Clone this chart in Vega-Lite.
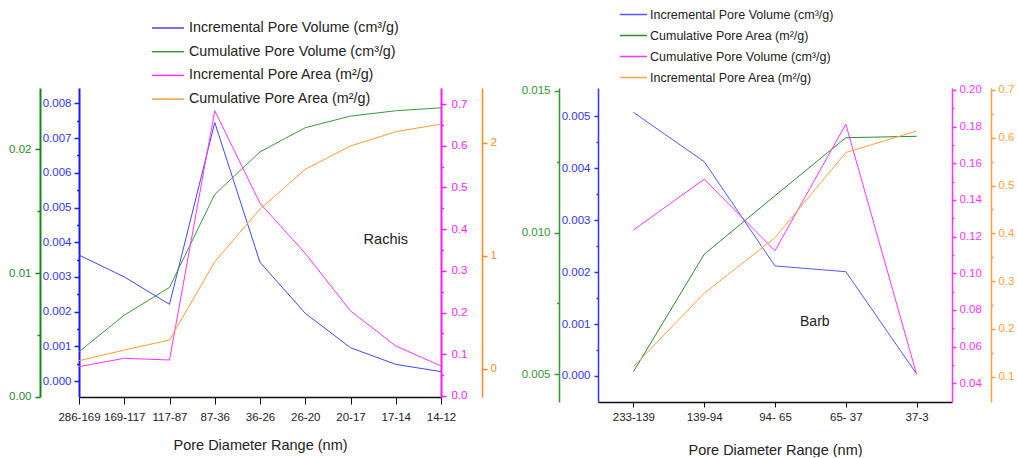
{
  "$schema": "https://vega.github.io/schema/vega-lite/v6.json",
  "background": "white",
  "padding": {"left": 8, "top": 7, "right": 0, "bottom": 0},
  "spacing": 157,
  "bounds": "flush",
  "config": {
    "font": "Liberation Sans",
    "view": {"stroke": null},
    "axis": {"labelFont": "Liberation Sans", "titleFont": "Liberation Sans", "grid": false, "labelFontSize": 11.5, "titleFontWeight": "normal", "labelOverlap": false, "labelFlush": false, "labelBound": false},
    "legend": {"labelFont": "Liberation Sans", "padding": 0}
  },
  "datasets": {
    "rachis": [
      {"range": "286-169", "ipv": 0.00363, "cpv": 0.00364, "ipa": 0.0703, "cpa": 0.071},
      {"range": "169-117", "ipv": 0.0030, "cpv": 0.0066, "ipa": 0.0904, "cpa": 0.165},
      {"range": "117-87", "ipv": 0.00221, "cpv": 0.00884, "ipa": 0.0863, "cpa": 0.254},
      {"range": "87-36", "ipv": 0.00745, "cpv": 0.01636, "ipa": 0.684, "cpa": 0.947},
      {"range": "36-26", "ipv": 0.00342, "cpv": 0.0198, "ipa": 0.462, "cpa": 1.413},
      {"range": "26-20", "ipv": 0.00195, "cpv": 0.02175, "ipa": 0.342, "cpa": 1.765},
      {"range": "20-17", "ipv": 0.00096, "cpv": 0.02269, "ipa": 0.204, "cpa": 1.971},
      {"range": "17-14", "ipv": 0.00048, "cpv": 0.02312, "ipa": 0.120, "cpa": 2.097},
      {"range": "14-12", "ipv": 0.00027, "cpv": 0.02336, "ipa": 0.072, "cpa": 2.165}
    ],
    "barb": [
      {"range": "233-139", "ipv": 0.00508, "cpa": 0.00508, "cpv": 0.1236, "ipa": 0.121},
      {"range": "139-94", "ipv": 0.00413, "cpa": 0.00923, "cpv": 0.1513, "ipa": 0.2745},
      {"range": "94- 65", "ipv": 0.00212, "cpa": 0.0113, "cpv": 0.1123, "ipa": 0.391},
      {"range": "65- 37", "ipv": 0.00201, "cpa": 0.01335, "cpv": 0.1813, "ipa": 0.569},
      {"range": "37-3", "ipv": 0.00004, "cpa": 0.0134, "cpv": 0.0449, "ipa": 0.614}
    ]
  },
  "resolve": {"scale": {"color": "independent"}, "legend": {"color": "independent"}},
  "hconcat": [
    {
      "width": 362,
      "height": 309,
      "data": {"name": "rachis"},
      "encoding": {
        "x": {
          "field": "range", "type": "ordinal",
          "scale": {"type": "point", "padding": 0, "domain": ["286-169", "169-117", "117-87", "87-36", "36-26", "26-20", "20-17", "17-14", "14-12"]},
          "axis": {"title": "Pore Diameter Range (nm)", "labelAngle": 0, "domainColor": "#111", "domainWidth": 1.5, "tickColor": "#111", "tickSize": 7, "tickWidth": 1, "labelPadding": 7, "labelFontSize": 11.5, "labelColor": "#222", "titleFontSize": 14.5, "titleColor": "#222", "titlePadding": 16}
        }
      },
      "layer": [
        {
          "mark": {"type": "line", "strokeWidth": 1},
          "encoding": {
            "y": {"field": "ipv", "type": "quantitative", "scale": {"domain": [-0.000461, 0.008444], "zero": false, "nice": false},
              "axis": {"orient": "left", "offset": 0, "title": null, "values": [0,0.0005,0.001,0.0015,0.002,0.0025,0.003,0.0035,0.004,0.0045,0.005,0.0055,0.006,0.0065,0.007,0.0075,0.008], "format": ".3f",
                "labelExpr": "abs(datum.value*1000 - round(datum.value*1000)) < 0.01 ? datum.label : ''",
                "tickSize": {"condition": {"test": "abs(datum.value*1000 - round(datum.value*1000)) < 0.01", "value": 5}, "value": 2.5},
                "domainColor": "#1a1aff", "domainWidth": 2, "tickColor": "#1a1aff", "tickWidth": 1.5, "labelColor": "#3333ff", "labelPadding": 3}},
            "color": {"datum": "Incremental Pore Volume (cm³/g)", "type": "nominal",
              "scale": {"domain": ["Incremental Pore Volume (cm³/g)", "Cumulative Pore Volume (cm³/g)", "Incremental Pore Area (m²/g)", "Cumulative Pore Area (m²/g)"], "range": ["#4444ff", "#3a9a3a", "#ff33ff", "#ff9933"]},
              "legend": {"orient": "none", "legendX": 80, "legendY": -69, "title": null, "symbolType": "M-2,0H2", "symbolSize": 256, "symbolStrokeWidth": 1.5, "labelFontSize": 14.3, "labelColor": "#222", "rowPadding": 6.7, "labelOffset": 12, "labelLimit": 400}}
          }
        },
        {
          "mark": {"type": "line", "strokeWidth": 1},
          "encoding": {
            "y": {"field": "cpv", "type": "quantitative", "scale": {"domain": [-0.00002, 0.02496], "zero": false, "nice": false},
              "axis": {"orient": "left", "offset": 39, "title": null, "values": [0, 0.005, 0.01, 0.015, 0.02], "format": ".2f",
                "labelExpr": "abs(datum.value*100 - round(datum.value*100)) < 0.01 ? datum.label : ''",
                "tickSize": {"condition": {"test": "abs(datum.value*100 - round(datum.value*100)) < 0.01", "value": 5}, "value": 3},
                "domainColor": "#138a13", "domainWidth": 2, "tickColor": "#138a13", "tickWidth": 1.5, "labelColor": "#2a8a2a", "labelPadding": 4}},
            "color": {"datum": "Cumulative Pore Volume (cm³/g)", "type": "nominal"}
          }
        },
        {
          "mark": {"type": "line", "strokeWidth": 1},
          "encoding": {
            "y": {"field": "ipa", "type": "quantitative", "scale": {"domain": [-0.0024, 0.7384], "zero": false, "nice": false},
              "axis": {"orient": "right", "offset": 0, "title": null, "values": [0,0.05,0.1,0.15,0.2,0.25,0.3,0.35,0.4,0.45,0.5,0.55,0.6,0.65,0.7], "format": ".1f",
                "labelExpr": "abs(datum.value*10 - round(datum.value*10)) < 0.01 ? datum.label : ''",
                "tickSize": {"condition": {"test": "abs(datum.value*10 - round(datum.value*10)) < 0.01", "value": 5}, "value": 2.5},
                "domainColor": "#ff1aff", "domainWidth": 2, "tickColor": "#ff1aff", "tickWidth": 1.5, "labelColor": "#ff1aff", "labelPadding": 5}},
            "color": {"datum": "Incremental Pore Area (m²/g)", "type": "nominal"}
          }
        },
        {
          "mark": {"type": "line", "strokeWidth": 1},
          "encoding": {
            "y": {"field": "cpa", "type": "quantitative", "scale": {"domain": [-0.2504, 2.484], "zero": false, "nice": false},
              "axis": {"orient": "right", "offset": 41, "title": null, "values": [0, 0.5, 1, 1.5, 2], "format": "d",
                "labelExpr": "abs(datum.value - round(datum.value)) < 0.01 ? datum.label : ''",
                "tickSize": {"condition": {"test": "abs(datum.value - round(datum.value)) < 0.01", "value": 5}, "value": 3},
                "domainColor": "#ff8c1a", "domainWidth": 1.5, "tickColor": "#ff8c1a", "tickWidth": 1.5, "labelColor": "#ff8c1a", "labelPadding": 3}},
            "color": {"datum": "Cumulative Pore Area (m²/g)", "type": "nominal"}
          }
        },
        {
          "data": {"values": [{"note": "Rachis"}]},
          "mark": {"type": "text", "fontSize": 14.5, "color": "#222", "dx": -10, "font": "Liberation Sans"},
          "encoding": {
            "x": {"datum": "17-14"},
            "y": {"datum": 0.374, "type": "quantitative", "scale": {"domain": [-0.0024, 0.7384], "zero": false, "nice": false}, "axis": null},
            "text": {"field": "note", "type": "nominal"}
          }
        }
      ],
      "resolve": {"scale": {"y": "independent"}}
    },
    {
      "width": 354,
      "height": 314,
      "data": {"name": "barb"},
      "encoding": {
        "x": {
          "field": "range", "type": "ordinal",
          "scale": {"type": "point", "padding": 0.5, "domain": ["233-139", "139-94", "94- 65", "65- 37", "37-3"]},
          "axis": {"title": "Pore Diameter Range (nm)", "labelAngle": 0, "domainColor": "#111", "domainWidth": 1.5, "tickColor": "#111", "tickSize": 5, "tickWidth": 1, "labelPadding": 4, "labelFontSize": 11.5, "labelColor": "#222", "titleFontSize": 14.5, "titleColor": "#222", "titlePadding": 21}
        }
      },
      "layer": [
        {
          "mark": {"type": "line", "strokeWidth": 1},
          "encoding": {
            "y": {"field": "ipv", "type": "quantitative", "scale": {"domain": [-0.000501, 0.005549], "zero": false, "nice": false},
              "axis": {"orient": "left", "offset": 0, "title": null, "values": [0,0.0005,0.001,0.0015,0.002,0.0025,0.003,0.0035,0.004,0.0045,0.005], "format": ".3f",
                "labelExpr": "abs(datum.value*1000 - round(datum.value*1000)) < 0.01 ? datum.label : ''",
                "tickSize": {"condition": {"test": "abs(datum.value*1000 - round(datum.value*1000)) < 0.01", "value": 4}, "value": 2},
                "domainColor": "#3333ff", "domainWidth": 1.5, "tickColor": "#3333ff", "tickWidth": 1.5, "labelColor": "#3333ff", "labelPadding": 4}},
            "color": {"datum": "Incremental Pore Volume (cm³/g)", "type": "nominal",
              "scale": {"domain": ["Incremental Pore Volume (cm³/g)", "Cumulative Pore Area (m²/g)", "Cumulative Pore Volume (cm³/g)", "Incremental Pore Area (m²/g)"], "range": ["#5555ff", "#2e8b2e", "#ff33ff", "#ffa040"]},
              "legend": {"orient": "none", "legendX": 28, "legendY": -81, "title": null, "symbolType": "M-2,0H2", "symbolSize": 182, "symbolStrokeWidth": 1.5, "labelFontSize": 12.5, "labelColor": "#222", "rowPadding": 7, "labelOffset": 9, "labelLimit": 400}}
          }
        },
        {
          "mark": {"type": "line", "strokeWidth": 1},
          "encoding": {
            "y": {"field": "cpa", "type": "quantitative", "scale": {"domain": [0.004011, 0.015106], "zero": false, "nice": false},
              "axis": {"orient": "left", "offset": 39, "title": null, "values": [0.005, 0.0075, 0.01, 0.0125, 0.015], "format": ".3f",
                "labelExpr": "abs(datum.value*200 - round(datum.value*200)) < 0.01 ? datum.label : ''",
                "tickSize": {"condition": {"test": "abs(datum.value*200 - round(datum.value*200)) < 0.01", "value": 5}, "value": 2.5},
                "domainColor": "#339933", "domainWidth": 1.5, "tickColor": "#339933", "tickWidth": 1.5, "labelColor": "#339933", "labelPadding": 4}},
            "color": {"datum": "Cumulative Pore Area (m²/g)", "type": "nominal"}
          }
        },
        {
          "mark": {"type": "line", "strokeWidth": 1},
          "encoding": {
            "y": {"field": "cpv", "type": "quantitative", "scale": {"domain": [0.0298, 0.20106], "zero": false, "nice": false},
              "axis": {"orient": "right", "offset": 0, "title": null, "values": [0.04,0.05,0.06,0.07,0.08,0.09,0.1,0.11,0.12,0.13,0.14,0.15,0.16,0.17,0.18,0.19,0.2], "format": ".2f",
                "labelExpr": "abs(datum.value*50 - round(datum.value*50)) < 0.01 ? datum.label : ''",
                "tickSize": {"condition": {"test": "abs(datum.value*50 - round(datum.value*50)) < 0.01", "value": 4}, "value": 2},
                "domainColor": "#ff33ff", "domainWidth": 1.5, "tickColor": "#ff33ff", "tickWidth": 1.5, "labelColor": "#ff33ff", "labelPadding": 3}},
            "color": {"datum": "Cumulative Pore Volume (cm³/g)", "type": "nominal"}
          }
        },
        {
          "mark": {"type": "line", "strokeWidth": 1},
          "encoding": {
            "y": {"field": "ipa", "type": "quantitative", "scale": {"domain": [0.0471, 0.704], "zero": false, "nice": false},
              "axis": {"orient": "right", "offset": 39, "title": null, "values": [0.1,0.15,0.2,0.25,0.3,0.35,0.4,0.45,0.5,0.55,0.6,0.65,0.7], "format": ".1f",
                "labelExpr": "abs(datum.value*10 - round(datum.value*10)) < 0.01 ? datum.label : ''",
                "tickSize": {"condition": {"test": "abs(datum.value*10 - round(datum.value*10)) < 0.01", "value": 4}, "value": 2},
                "domainColor": "#ffa040", "domainWidth": 1.5, "tickColor": "#ffa040", "tickWidth": 1.5, "labelColor": "#ffa040", "labelPadding": 3}},
            "color": {"datum": "Incremental Pore Area (m²/g)", "type": "nominal"}
          }
        },
        {
          "data": {"values": [{"note": "Barb"}]},
          "mark": {"type": "text", "fontSize": 14, "color": "#222", "dx": -31, "font": "Liberation Sans"},
          "encoding": {
            "x": {"datum": "65- 37"},
            "y": {"datum": 0.0734, "type": "quantitative", "scale": {"domain": [0.0298, 0.20106], "zero": false, "nice": false}, "axis": null},
            "text": {"field": "note", "type": "nominal"}
          }
        }
      ],
      "resolve": {"scale": {"y": "independent"}}
    }
  ]
}
